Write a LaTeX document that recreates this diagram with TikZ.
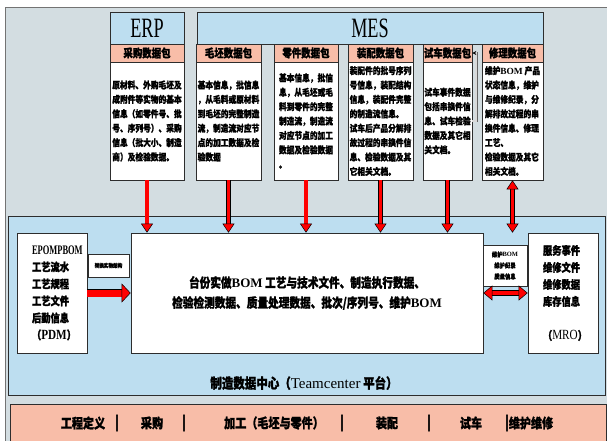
\documentclass[tikz,border=0pt]{standalone}
\usepackage{fontspec}
\usetikzlibrary{arrows.meta}
\newfontfamily\cjk[FakeStretch=0.82, BoldFeatures={FakeBold=1.3}]{Noto Sans CJK SC}
\newfontfamily\latn{Liberation Serif}
\newfontfamily\lat[FakeStretch=0.8]{Liberation Serif}
\newfontfamily\latc[FakeStretch=0.65]{Liberation Serif}
\newfontfamily\barfont[FakeBold=2]{Liberation Serif}
\definecolor{bggray}{RGB}{211,221,225}
\definecolor{hdblue}{RGB}{189,222,240}
\definecolor{pk}{RGB}{248,189,168}
\definecolor{edgec}{RGB}{45,45,45}
\tikzset{
  frame/.style={draw=edgec, line width=0.7pt, inner sep=0pt},
  topbox/.style={frame, fill=hdblue, minimum height=32pt, font=\latc\fontsize{28}{30}\selectfont},
  hdbox/.style={frame, fill=pk, minimum height=18pt, font=\cjk\bfseries\fontsize{11.5}{12}\selectfont},
  bdbox/.style={frame, fill=white, minimum height=118pt, align=left, font=\cjk\bfseries\fontsize{9.4}{14.4}\selectfont},
  sidebox/.style={frame, fill=white, minimum width=70pt, minimum height=120pt, align=left, font=\cjk\bfseries\fontsize{11.3}{17}\selectfont},
  tinybox/.style={frame, fill=white, align=center, font=\cjk\bfseries\fontsize{5.6}{7.2}\selectfont},
  bandtext/.style={inner sep=0pt, font=\cjk\bfseries\fontsize{13.5}{14}\selectfont},
  bar/.style={inner sep=0pt, font=\barfont\bfseries\fontsize{18}{18}\selectfont},
  fat/.style={draw=black, line width=0.5pt, double=red, double distance=3.5pt, -{Triangle[width=12pt,length=9pt,fill=red]}},
  fatboth/.style={draw=black, line width=0.5pt, double=red, double distance=3.5pt, {Triangle[width=12pt,length=9pt,fill=red]}-{Triangle[width=12pt,length=9pt,fill=red]}},
  bigfat/.style={draw=black, line width=0.5pt, double=red, double distance=7pt, -{Triangle[width=19pt,length=9pt,fill=red]}},
  midfat/.style={draw=black, line width=0.5pt, double=red, double distance=4.5pt, {Triangle[width=15pt,length=9pt,fill=red]}-{Triangle[width=15pt,length=9pt,fill=red]}},
  smallarr/.style={draw=black!60, line width=0.4pt, double=black!15, double distance=2pt, -{Stealth[length=4pt,width=4pt,black]}}
}
\begin{document}
\begin{tikzpicture}[x=1pt,y=-1pt]
\useasboundingbox (0,0) rectangle (607,441);
\fill[bggray] (5,7) rectangle (607,441);
\draw[black!55, line width=0.8pt] (5,441) -- (5,7) -- (607,7);
% Teamcenter area
\node[frame, fill=hdblue, minimum width=597pt, minimum height=179pt] (tc) at (306.5,305.5) {};
\node[inner sep=0pt, font=\cjk\bfseries\fontsize{14}{15}\selectfont] (tclab) at (304,383) {制造数据中心（{\latn\mdseries\fontsize{15}{15}\selectfont Teamcenter} 平台）};
% bottom band
\node[frame, fill=pk, minimum width=596pt, minimum height=38pt] (band) at (308,423) {};
\node[bandtext] (b1) at (83,423) {工程定义};
\node[bar] (s1) at (117,423) {|};
\node[bandtext] (b2) at (152,423) {采购};
\node[bar] (s2) at (184,423) {|};
\node[bandtext] (b3) at (274,423) {加工（毛坯与零件）};
\node[bar] (s3) at (342,423) {|};
\node[bandtext] (b4) at (387,423) {装配};
\node[bar] (s4) at (429,423) {|};
\node[bandtext] (b5) at (471,423) {试车};
\node[bar] (s5) at (507,423) {|};
\node[bandtext] (b6) at (531,423) {维护维修};
% ERP
\node[topbox, minimum width=74pt] (erp) at (147,28) {ERP};
\node[hdbox, minimum width=74pt] (erphd) at (147,53) {采购数据包};
\node[bdbox, minimum width=74pt] (erpbd) at (147,121) {原材料、外购毛坯及\\成附件等实物的基本\\信息（如零件号、批\\号、序列号）、采购\\信息（批大小、制造\\商）及检验数据。};
% MES
\node[topbox, minimum width=346pt] (mes) at (370,28) {MES};
\node[hdbox, minimum width=65pt] (hd1) at (228.5,53) {毛坯数据包};
\node[hdbox, minimum width=64pt] (hd2) at (306,53) {零件数据包};
\node[hdbox, minimum width=65pt] (hd3) at (380.5,53) {装配数据包};
\node[hdbox, minimum width=49pt] (hd4) at (447.5,53) {试车数据包};
\node[hdbox, minimum width=61pt] (hd5) at (512.5,53) {修理数据包};
\node[bdbox, minimum width=65pt] (bd1) at (228.5,121) {基本信息，批信息\\，从毛料或原材料\\到毛坯的完整制造\\流，制造流对应节\\点的加工数据及检\\验数据};
\node[bdbox, minimum width=64pt] (bd2) at (306,121) {基本信息，批信\\息，从毛坯或毛\\料到零件的完整\\制造流，制造流\\对应节点的加工\\数据及检验数据\\。};
\node[bdbox, minimum width=65pt] (bd3) at (380.5,121) {装配件的批号序列\\号信息，装配结构\\信息，装配件完整\\的制造流信息。\\试车后产品分解排\\故过程的串换件信\\息、检验数据及其\\它相关文档。};
\node[bdbox, minimum width=49pt] (bd4) at (447.5,121) {试车事件数据\\包括串换件信\\息、试车检验\\数据及其它相\\关文档。};
\node[bdbox, minimum width=61pt] (bd5) at (512.5,121) {维护{\latn BOM} 产品\\状态信息，维护\\与维修纪录，分\\解排故过程的串\\换件信息、修理\\工艺、\\检验数据及其它\\相关文档。};
\draw[smallarr] (bd4.east) -- ++(4,0) |- (hd4.east);
% lower boxes
\node[sidebox, text width=40pt] (pdm) at (52,293) {{\latc\fontsize{13}{17}\selectfont EPOMPBOM}\\工艺流水\\工艺规程\\工艺文件\\后勤信息\\（{\lat\fontsize{14}{17}\selectfont PDM}）};
\node[frame, fill=white, minimum width=352pt, minimum height=120pt, align=center, font=\cjk\bfseries\fontsize{13}{20}\selectfont] (center) at (307,293) {台份实做{\latn BOM} 工艺与技术文件、制造执行数据、\\检验检测数据、质量处理数据、批次/序列号、维护{\latn BOM}};
\node[sidebox, text width=40pt] (mro) at (563,293) {服务事件\\维修文件\\维修数据\\库存信息\\[17pt]（{\lat\mdseries\fontsize{14}{17}\selectfont MRO}）};
\node[tinybox, minimum width=41pt, minimum height=23pt] (conv) at (108.5,265.5) {转换实物结构};
\node[tinybox, minimum width=44pt, minimum height=41pt, font=\cjk\bfseries\fontsize{6.5}{11}\selectfont] (mbom) at (505,265.5) {维护{\latn BOM}\\维护纪录\\质量信息};
% arrows
\draw[fat] (erpbd.south) -- (erpbd.south |- center.north);
\draw[fat] (bd1.south) -- (bd1.south |- center.north);
\draw[fat] (bd2.south) -- (bd2.south |- center.north);
\draw[fat] (bd3.south) -- (bd3.south |- center.north);
\draw[fat] (bd4.south) -- (bd4.south |- center.north);
\draw[fatboth] (bd5.south) -- (bd5.south |- center.north);
\draw[bigfat] (pdm.east) -- (center.west);
\draw[midfat] (center.east) -- (mro.west);
\end{tikzpicture}
\end{document}
